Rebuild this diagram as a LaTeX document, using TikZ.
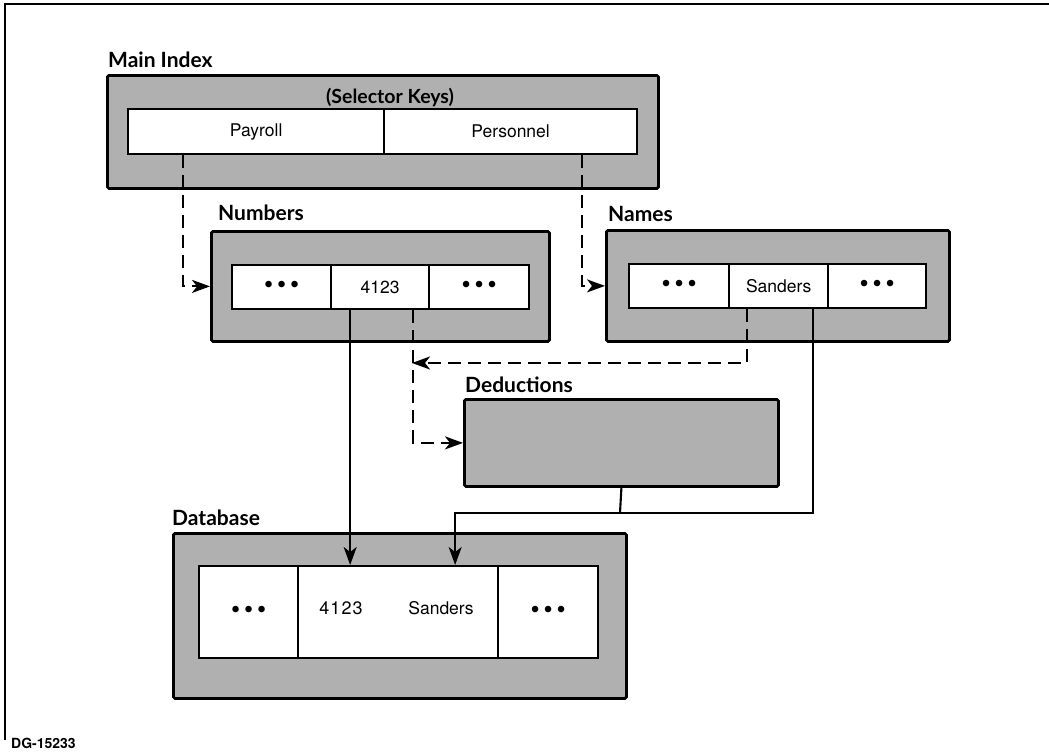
\documentclass[tikz,border=0pt]{standalone}
\usepackage{fontspec}
\setmainfont{TeX Gyre Heros}
\newfontfamily\lblfont{Lato}
\usetikzlibrary{arrows.meta}
\definecolor{screen}{gray}{0.69}

% three bullets standing for omitted entries
\newcommand\cellDots{{\fontsize{26}{26}\selectfont •\kern4pt•\kern4pt•}}

\tikzset{
  outerbox/.style={draw, line width=2.8pt, fill=screen, rounded corners=1.5pt,
                   inner sep=0pt, anchor=north west},
  cell/.style={draw, line width=2.3pt, fill=white, inner sep=0pt, anchor=north west,
               font=\fontsize{17.5}{20}\selectfont},
  boxlabel/.style={anchor=base west, inner sep=0pt,
                   font=\lblfont\bfseries\fontsize{21}{24}\selectfont},
  conn/.style={line width=2.1pt},
  dashconn/.style={conn, dash pattern=on 13pt off 7pt},
  tip/.style={-{Stealth[length=18pt,width=13pt,inset=5pt]}},
}

\begin{document}
\begin{tikzpicture}[x=1pt,y=-1pt]
\useasboundingbox (0,0) rectangle (1049,752);

% page frame
\draw[line width=1.8pt] (5,740) -- (5,4) -- (1049,4);

% ---------------- Main Index ----------------
\node[boxlabel] (lmain) at (108,67) {Main Index};
\node[outerbox, minimum width=551pt, minimum height=113pt] (mainidx) at (106,74) {};
\node[anchor=base, inner sep=0pt, font=\lblfont\bfseries\fontsize{19.5}{22}\selectfont]
  (keys) at (390,103) {(Selector Keys)};
\node[cell, minimum width=256pt, minimum height=45pt] (payroll) at (127,108) {Payroll};
\node[cell, minimum width=253pt, minimum height=45pt] (personnel) at (383,108) {Personnel};

% ---------------- Numbers ----------------
\node[boxlabel] (lnum) at (218,220) {Numbers};
\node[outerbox, minimum width=338pt, minimum height=110pt] (numbers) at (210,230) {};
\node[cell, minimum width=99pt, minimum height=44pt] (numA) at (231,264) {\cellDots};
\node[cell, minimum width=98pt, minimum height=44pt] (num4123) at (330,264) {4123};
\node[cell, minimum width=100pt, minimum height=44pt] (numB) at (428,264) {\cellDots};

% ---------------- Names ----------------
\node[boxlabel] (lnames) at (608,221) {Names};
\node[outerbox, minimum width=343pt, minimum height=111pt] (names) at (605,229) {};
\node[cell, minimum width=100pt, minimum height=44pt] (namA) at (628,263) {\cellDots};
\node[cell, minimum width=99pt, minimum height=44pt] (sanders) at (728,263) {Sanders};
\node[cell, minimum width=98pt, minimum height=44pt] (namB) at (827,263) {\cellDots};

% ---------------- Deductions ----------------
\node[boxlabel] (lded) at (465,392) {Deductions};
\node[outerbox, minimum width=314pt, minimum height=87pt] (ded) at (463,398) {};

% ---------------- Database ----------------
\node[boxlabel] (ldb) at (172,525) {Database};
\node[outerbox, minimum width=453pt, minimum height=165pt] (db) at (172,532) {};
\node[cell, minimum width=99pt, minimum height=92pt] (dbA) at (198,565) {\cellDots};
\node[cell, minimum width=200pt, minimum height=92pt] (dbmid) at (297,565) {};
\node[anchor=center, inner sep=0pt, font=\fontsize{18}{20}\selectfont] (dbnum) at (341,608) {4\kern1pt1\kern1pt2\kern1pt3};
\node[anchor=center, inner sep=0pt, font=\fontsize{17.5}{20}\selectfont] (dbname) at (441,608) {Sanders};
\node[cell, minimum width=100pt, minimum height=92pt] (dbB) at (497,565) {\cellDots};

% figure number
\node[anchor=base west, inner sep=0pt, font=\bfseries\fontsize{14}{16}\selectfont]
  (dg) at (11,748) {DG-15233};

% ---------------- connectors ----------------
\coordinate (meet) at (412,363);
\coordinate (bus) at (620,513);

\draw[dashconn, tip] ([xshift=-73pt]payroll.south) |- (numbers.west);
\draw[dashconn, tip] ([xshift=71.5pt]personnel.south) |- (names.west);
\draw[conn, tip] ([xshift=-30pt]num4123.south) -- ([xshift=-48pt]dbmid.north);
\draw[dashconn, tip] ([xshift=33pt]num4123.south) |- (ded.west);
\draw[dashconn, tip] ([xshift=-31.5pt]sanders.south) |- (meet);
\draw[conn] (ded.south) -- (bus);
\draw[conn, tip] ([xshift=34.5pt]sanders.south) |- (bus) -| ([xshift=57pt]dbmid.north);
\end{tikzpicture}
\end{document}
